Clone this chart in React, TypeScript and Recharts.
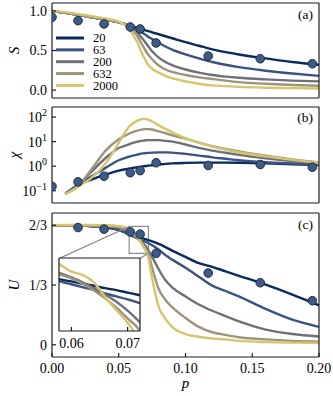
import React from 'react'
import {
  ComposedChart, Line, Scatter, XAxis, YAxis, Legend,
  ReferenceArea, ReferenceLine, CartesianGrid,
} from 'recharts'

const FONT = '"Liberation Serif", "Times New Roman", serif'
const INK = '#1b1b1b'
const BOX = '#8c8c8c'

// system sizes N, cividis-like colours
const sizes = ['20', '63', '200', '632', '2000']
const colors = ['#0b2a5c', '#3c5283', '#6e7078', '#9d957a', '#d7c56c']

// shared p grid for the simulated curves
const pGrid = [0, 0.01, 0.02, 0.03, 0.04, 0.05, 0.055, 0.058, 0.06, 0.062, 0.064, 0.066, 0.068, 0.07,
  0.072, 0.075, 0.08, 0.085, 0.09, 0.1, 0.11, 0.12, 0.13, 0.14, 0.16, 0.18, 0.2]

// (a) S
const S20 = [1.0, 0.975, 0.95, 0.92, 0.89, 0.855, 0.83, 0.815, 0.805, 0.795, 0.785, 0.775, 0.765, 0.755,
  0.745, 0.73, 0.705, 0.68, 0.655, 0.605, 0.56, 0.515, 0.48, 0.45, 0.4, 0.355, 0.32]
const S63 = [1.0, 0.975, 0.95, 0.92, 0.89, 0.855, 0.83, 0.81, 0.795, 0.78, 0.76, 0.74, 0.72, 0.7,
  0.675, 0.645, 0.595, 0.55, 0.51, 0.45, 0.4, 0.355, 0.32, 0.29, 0.245, 0.21, 0.18]
const S200 = [1.0, 0.975, 0.95, 0.92, 0.89, 0.855, 0.83, 0.805, 0.785, 0.755, 0.725, 0.685, 0.645, 0.6,
  0.555, 0.49, 0.41, 0.355, 0.315, 0.26, 0.22, 0.19, 0.17, 0.155, 0.135, 0.12, 0.11]
const S632 = [1.0, 0.975, 0.95, 0.92, 0.89, 0.855, 0.835, 0.81, 0.78, 0.73, 0.68, 0.62, 0.56, 0.5,
  0.45, 0.39, 0.31, 0.26, 0.23, 0.19, 0.16, 0.14, 0.12, 0.1, 0.08, 0.065, 0.055]
const S2000 = [1.0, 0.985, 0.96, 0.935, 0.905, 0.865, 0.815, 0.77, 0.72, 0.66, 0.6, 0.52, 0.44, 0.38,
  0.32, 0.27, 0.22, 0.18, 0.15, 0.11, 0.08, 0.06, 0.05, 0.04, 0.03, 0.025, 0.02]

// (b) chi
const X20 = [null, 0.075, 0.17, 0.29, 0.45, 0.66, 0.75, 0.8, 0.84, 0.87, 0.9, 0.94, 0.98, 1.02,
  1.05, 1.09, 1.16, 1.24, 1.3, 1.36, 1.39, 1.4, 1.39, 1.37, 1.3, 1.2, 1.1]
const X63 = [null, 0.075, 0.19, 0.4, 0.85, 1.74, 2.19, 2.45, 2.63, 2.82, 2.95, 3.16, 3.3, 3.39,
  3.47, 3.55, 3.63, 3.63, 3.55, 3.16, 2.7, 2.29, 2.0, 1.74, 1.45, 1.29, 1.17]
const X200 = [null, 0.075, 0.18, 0.63, 2.1, 5.5, 6.9, 7.9, 8.7, 9.3, 10, 10.5, 11, 11.2,
  11.5, 11.5, 11.5, 10.7, 10, 7.6, 5.6, 4.3, 3.5, 2.9, 2.1, 1.6, 1.3]
const X632 = [null, 0.075, 0.16, 0.8, 4.2, 12.6, 17.8, 21.4, 24, 26.3, 28.2, 30, 31.6, 32.4,
  32.4, 31, 26.3, 21.9, 18.2, 13.2, 9.1, 6.6, 5, 4, 2.7, 1.9, 1.4]
const X2000 = [null, 0.07, 0.15, 0.35, 1.26, 8.9, 25, 42, 52, 63, 72, 79, 83, 83,
  79, 66, 46, 33, 24, 13.8, 9.1, 6.3, 4.7, 3.6, 2.5, 1.8, 1.38]

// (c) U
const U20 = [0.667, 0.667, 0.665, 0.661, 0.654, 0.64, 0.627, 0.616, 0.612, 0.607, 0.603, 0.598, 0.594, 0.589,
  0.584, 0.577, 0.563, 0.545, 0.525, 0.49, 0.455, 0.435, 0.41, 0.385, 0.335, 0.28, 0.22]
const U63 = [0.667, 0.667, 0.665, 0.661, 0.654, 0.64, 0.625, 0.612, 0.606, 0.6, 0.594, 0.587, 0.581, 0.575,
  0.568, 0.555, 0.53, 0.5, 0.475, 0.43, 0.38, 0.33, 0.3, 0.27, 0.2, 0.14, 0.1]
const U200 = [0.667, 0.667, 0.666, 0.664, 0.66, 0.652, 0.64, 0.629, 0.62, 0.61, 0.598, 0.585, 0.57, 0.552,
  0.53, 0.49, 0.42, 0.36, 0.32, 0.27, 0.225, 0.19, 0.16, 0.13, 0.085, 0.06, 0.046]
const U632 = [0.667, 0.667, 0.667, 0.666, 0.664, 0.658, 0.643, 0.626, 0.618, 0.607, 0.593, 0.577, 0.558, 0.536,
  0.513, 0.43, 0.31, 0.25, 0.21, 0.15, 0.1, 0.07, 0.055, 0.042, 0.03, 0.022, 0.018]
const U2000 = [0.667, 0.668, 0.668, 0.668, 0.667, 0.662, 0.655, 0.646, 0.632, 0.625, 0.61, 0.58, 0.553, 0.527,
  0.49, 0.37, 0.21, 0.145, 0.1, 0.06, 0.045, 0.035, 0.03, 0.022, 0.015, 0.012, 0.01]

// measured points
const pPts = [0, 0.0195, 0.039, 0.0586, 0.066, 0.078, 0.117, 0.156, 0.195]
const sPts = [0.92, 0.877, 0.835, 0.797, 0.772, 0.595, 0.43, 0.396, 0.333]
const chiPts = [0.15, 0.23, 0.39, 0.54, 0.66, 1.38, 1.07, 1.17, 0.91]
const uPts = [null, 0.654, 0.645, 0.63, 0.617, 0.51, 0.4, 0.346, 0.246]

const xTicks = [0, 0.05, 0.1, 0.15, 0.2]
const sTicks = [0, 0.5, 1]
const chiTicks = [0.1, 1, 10, 100]
const uTicks = [0, 1 / 3, 2 / 3]
const uTickLabels = ['0', '1/3', '2/3']
const insetTicks = [0.06, 0.07]
const insetX: [number, number] = [0.0578, 0.0722]
const insetY: [number, number] = [0.51, 0.66]
// where the inset frame sits, in panel (c) coordinates
const insetLeft = 0.0055
const insetRight = 0.0659
const insetTop = 0.482

const rowsOf = (series: (number | null)[][]) =>
  pGrid.map((p, i) => {
    const r: Record<string, number | null> = { p }
    series.forEach((s, k) => { r['n' + sizes[k]] = s[i] })
    return r
  })
const ptsOf = (vals: (number | null)[]) =>
  pPts.map((p, i) => ({ p, v: vals[i] })).filter(d => d.v !== null)

const sRows = rowsOf([S20, S63, S200, S632, S2000])
const chiRows = rowsOf([X20, X63, X200, X632, X2000])
const uRows = rowsOf([U20, U63, U200, U632, U2000])

const tickStyle = { fill: '#000', fontSize: 14, fontFamily: FONT }
const labelStyle = { fontFamily: FONT, fontStyle: 'italic', fontSize: 15, fill: '#000', textAnchor: 'middle' }

const dotShape = (props: any) => (
  <circle cx={props.cx} cy={props.cy} r={4.3} fill="#3e5a87" stroke="#1c2c4a" strokeWidth={1} />
)

function LogTick(props: any) {
  const { x, y, payload } = props
  const e = Math.round(Math.log10(payload.value))
  return (
    <text x={x} y={y} textAnchor="end" fill="#000" fontFamily={FONT} fontSize={14}>
      <tspan dy={5}>10</tspan>
      <tspan dy={-6} fontSize={10}>{e < 0 ? '\u2212' + -e : String(e)}</tspan>
    </text>
  )
}

const renderLegend = () => (
  <svg width={90} height={62} style={{ display: 'block' }}>
    {sizes.map((n, k) => (
      <g key={n}>
        <line x1={1} x2={29} y1={7 + k * 11.85} y2={7 + k * 11.85} stroke={colors[k]} strokeWidth={3} />
        <text x={38} y={7 + k * 11.85} dy="0.35em" fontFamily={FONT} fontSize={12.5} fill="#000">{n}</text>
      </g>
    ))}
  </svg>
)

type PanelProps = {
  top: number
  height: number
  mTop: number
  mBottom: number
  rows: any[]
  pts: any[]
  yDomain: [number, number]
  yTicks: number[]
  logY?: boolean
  yTick: any
  yFmt?: (v: number) => string
  yLabel: string
  bottomLabels?: boolean
  children?: React.ReactNode
}

function Panel(pr: PanelProps) {
  const yScale = pr.logY ? 'log' : 'auto'
  const edge = { stroke: INK, strokeWidth: 1.2 }
  return (
    <div style={{ position: 'absolute', left: 0, top: pr.top }}>
      <ComposedChart width={333} height={pr.height} data={pr.rows}
        margin={{ top: pr.mTop, right: 13, bottom: pr.mBottom, left: 8 }}>
        <XAxis xAxisId="b" dataKey="p" type="number" domain={[0, 0.2]} ticks={xTicks} interval={0}
          allowDataOverflow height={pr.bottomLabels ? 39 : 1} tickSize={-4} tickMargin={10}
          tick={pr.bottomLabels ? tickStyle : false} tickFormatter={(v: number) => v.toFixed(2)}
          axisLine={edge} tickLine={edge}
          label={pr.bottomLabels ? { value: 'p', position: 'insideBottom', offset: 8, style: labelStyle } : undefined} />
        <XAxis xAxisId="t" orientation="top" dataKey="p" type="number" domain={[0, 0.2]} ticks={xTicks}
          interval={0} allowDataOverflow height={1} tickSize={-4} tick={false} axisLine={edge} tickLine={edge} />
        <YAxis yAxisId="l" type="number" scale={yScale} domain={pr.yDomain} ticks={pr.yTicks} interval={0}
          allowDataOverflow width={44} tickSize={-4} tickMargin={9} tick={pr.yTick} tickFormatter={pr.yFmt}
          axisLine={edge} tickLine={edge}
          label={{ value: pr.yLabel, angle: -90, position: 'insideLeft', offset: 6, style: labelStyle }} />
        <YAxis yAxisId="r" orientation="right" type="number" scale={yScale} domain={pr.yDomain} ticks={pr.yTicks}
          interval={0} allowDataOverflow width={1} tickSize={-4} tick={false} axisLine={edge} tickLine={edge} />
        {sizes.map((n, k) => (
          <Line key={n} xAxisId="b" yAxisId="l" dataKey={'n' + n} type="monotone" stroke={colors[k]}
            strokeWidth={2.4} dot={false} isAnimationActive={false} />
        ))}
        <Scatter xAxisId="b" yAxisId="l" data={pr.pts} dataKey="v" shape={dotShape} isAnimationActive={false} />
        {pr.children}
      </ComposedChart>
    </div>
  )
}

function Inset() {
  const edge = { stroke: INK, strokeWidth: 1.2 }
  return (
    <div style={{ position: 'absolute', left: 50, top: 250 }}>
      <ComposedChart width={100} height={110} data={uRows} margin={{ top: 7, right: 9, bottom: 9, left: 8 }}>
        <CartesianGrid xAxisId="b" yAxisId="l" fill="#fff" horizontal={false} vertical={false} />
        <XAxis xAxisId="b" dataKey="p" type="number" domain={insetX} ticks={insetTicks} interval={0}
          allowDataOverflow height={20} tickSize={-4} tickMargin={11} tick={tickStyle}
          tickFormatter={(v: number) => v.toFixed(2)} axisLine={edge} tickLine={edge} />
        <XAxis xAxisId="t" orientation="top" dataKey="p" type="number" domain={insetX} ticks={insetTicks}
          interval={0} allowDataOverflow height={1} tickSize={-4} tick={false} axisLine={edge} tickLine={edge} />
        <YAxis yAxisId="l" type="number" domain={insetY} ticks={[0.6]} interval={0} allowDataOverflow
          width={1} tickSize={-4} tick={false} axisLine={edge} tickLine={edge} />
        <YAxis yAxisId="r" orientation="right" type="number" domain={insetY} ticks={[0.6]} interval={0}
          allowDataOverflow width={1} tickSize={-4} tick={false} axisLine={edge} tickLine={edge} />
        {sizes.map((n, k) => (
          <Line key={n} xAxisId="b" yAxisId="l" dataKey={'n' + n} type="monotone" stroke={colors[k]}
            strokeWidth={2.4} dot={false} isAnimationActive={false} />
        ))}
      </ComposedChart>
    </div>
  )
}

const tagStyle: React.CSSProperties = {
  position: 'absolute', right: 20, fontFamily: FONT, fontSize: 13.5, lineHeight: '14px', color: '#000',
}

export default function App() {
  return (
    <div style={{ position: 'absolute', left: 0, top: 0, width: 333, height: 396, background: '#fff' }}>
      <Panel top={0} height={100} mTop={2} mBottom={1} rows={sRows} pts={ptsOf(sPts)}
        yDomain={[-0.1, 1.1]} yTicks={sTicks} yTick={tickStyle} yFmt={(v: number) => v.toFixed(1)} yLabel="S">
        <Legend layout="vertical" align="center" verticalAlign="middle"
          wrapperStyle={{ left: 55, top: 31, width: 90 }} content={renderLegend} />
      </Panel>
      <Panel top={100} height={105} mTop={6} mBottom={1} rows={chiRows} pts={ptsOf(chiPts)}
        yDomain={[0.0316, 257]} yTicks={chiTicks} logY yTick={LogTick} yLabel="χ" />
      <Panel top={205} height={191} mTop={7} mBottom={0} rows={uRows} pts={ptsOf(uPts)}
        yDomain={[-0.068, 0.735]} yTicks={uTicks} yTick={tickStyle}
        yFmt={(v: number) => uTickLabels[uTicks.findIndex(t => Math.abs(t - v) < 1e-6)]}
        yLabel="U" bottomLabels>
        <ReferenceArea xAxisId="b" yAxisId="l" x1={insetX[0]} x2={insetX[1]} y1={insetY[0]} y2={insetY[1]}
          fill="none" stroke={BOX} strokeWidth={1.2} />
        <ReferenceLine xAxisId="b" yAxisId="l" stroke={BOX} strokeWidth={1.2}
          segment={[{ x: insetX[0], y: insetY[1] }, { x: insetLeft, y: insetTop }]} />
        <ReferenceLine xAxisId="b" yAxisId="l" stroke={BOX} strokeWidth={1.2}
          segment={[{ x: insetX[1], y: insetY[0] }, { x: insetRight, y: insetTop }]} />
      </Panel>
      <Inset />
      <div style={{ ...tagStyle, top: 8 }}>(a)</div>
      <div style={{ ...tagStyle, top: 111 }}>(b)</div>
      <div style={{ ...tagStyle, top: 218 }}>(c)</div>
    </div>
  )
}
